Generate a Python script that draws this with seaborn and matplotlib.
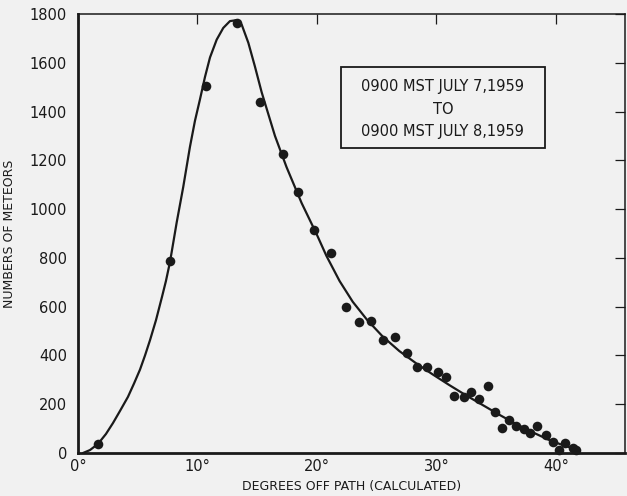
import matplotlib
matplotlib.use("Agg")
import matplotlib.pyplot as plt
import seaborn as sns
import pandas as pd
from matplotlib.patches import Rectangle

# observed counts (dots)
deg_obs = [1.7, 7.7, 10.7, 13.3, 15.2, 17.2, 18.45, 19.75, 21.2, 22.4, 23.5, 24.5,
           25.55, 26.5, 27.5, 28.4, 29.2, 30.1, 30.8, 31.5, 32.3, 32.9, 33.6, 34.3,
           34.9, 35.5, 36.1, 36.7, 37.3, 37.8, 38.4, 39.2, 39.8, 40.3, 40.8, 41.4, 41.7]
count_obs = [36, 787, 1504, 1764, 1440, 1228, 1070, 914, 820, 600, 537, 541,
             463, 475, 408, 353, 353, 332, 312, 234, 229, 252, 222, 275,
             168, 101, 135, 111, 97, 84, 110, 74, 46, 12, 40, 22, 12]

# hand drawn fitted curve
deg_fit = [0.42, 1.0, 1.67, 2.34, 2.93, 3.51, 4.18, 4.69, 5.19, 5.61, 6.03, 6.53,
           7.03, 7.36, 7.7, 8.26, 8.81, 9.37, 9.79, 10.21, 10.63, 11.05, 11.61,
           12.16, 12.72, 13.28, 13.7, 14.26, 14.81, 15.37, 15.93, 16.49, 17.46,
           18.72, 19.97, 20.8, 21.9, 23.0, 24.2, 25.5, 26.9, 28.3, 29.7, 31.1,
           32.5, 33.9, 35.3, 36.7, 38.1, 39.5, 40.6, 41.5]
count_fit = [0, 12, 37, 78, 123, 172, 230, 285, 342, 400, 463, 545,
             640, 705, 783, 945, 1091, 1255, 1362, 1450, 1542, 1622, 1695,
             1743, 1771, 1775, 1757, 1682, 1585, 1480, 1390, 1300, 1172,
             1025, 898, 808, 705, 620, 546, 478, 418, 368, 322, 278,
             236, 196, 156, 118, 84, 52, 32, 18]

xticks = [0, 10, 20, 30, 40]
xticklabels = ["0°", "10°", "20°", "30°", "40°"]
yticks = list(range(0, 1801, 200))

bg = "#f1f1f1"
ink = "#1a1a1a"

sns.set_style("white")
plt.rcParams['font.family'] = ['DejaVu Sans']

df_obs = pd.DataFrame({'deg': deg_obs, 'n': count_obs})
df_fit = pd.DataFrame({'deg': deg_fit, 'n': count_fit})

fig = plt.figure(figsize=(6.27, 4.96), dpi=100, facecolor=bg)
ax = fig.add_axes([0.1244, 0.0867, 0.8726, 0.885])
ax.set_facecolor(bg)

sns.lineplot(data=df_fit, x='deg', y='n', color=ink, linewidth=1.6,
             estimator=None, sort=False, ax=ax)
sns.scatterplot(data=df_obs, x='deg', y='n', color=ink, s=48, edgecolor=ink,
                linewidth=0, ax=ax, zorder=3, clip_on=False)

ax.set_xlim(0, 45.8)
ax.set_ylim(0, 1800)
ax.set_xticks(xticks)
ax.set_xticklabels(xticklabels)
ax.set_yticks(yticks)
ax.tick_params(axis='both', direction='in', length=7.5, width=0.9, color=ink,
               labelsize=10.5, labelcolor=ink, top=True, right=True)
ax.tick_params(axis='y', pad=8)
ax.tick_params(axis='x', pad=4)

for side in ['left', 'bottom']:
    ax.spines[side].set_linewidth(2.0)
for side in ['top', 'right']:
    ax.spines[side].set_linewidth(1.1)
for side in ax.spines:
    ax.spines[side].set_color(ink)

ax.set_xlabel('DEGREES OFF PATH (CALCULATED)', fontsize=9, color=ink, labelpad=5)
ax.set_ylabel('NUMBERS OF METEORS', fontsize=9, color=ink, labelpad=10)

# annotation box
ax.add_patch(Rectangle((0.480, 0.694), 0.374, 0.186, transform=ax.transAxes,
                       fill=False, edgecolor=ink, linewidth=1.3))
for yy, txt in [(0.834, "0900 MST JULY 7,1959"), (0.783, "TO"),
                (0.732, "0900 MST JULY 8,1959")]:
    ax.text(0.667, yy, txt, transform=ax.transAxes, ha='center', va='center',
            fontsize=10.5, color=ink)

fig.savefig("out.png", dpi=100, facecolor=bg)
